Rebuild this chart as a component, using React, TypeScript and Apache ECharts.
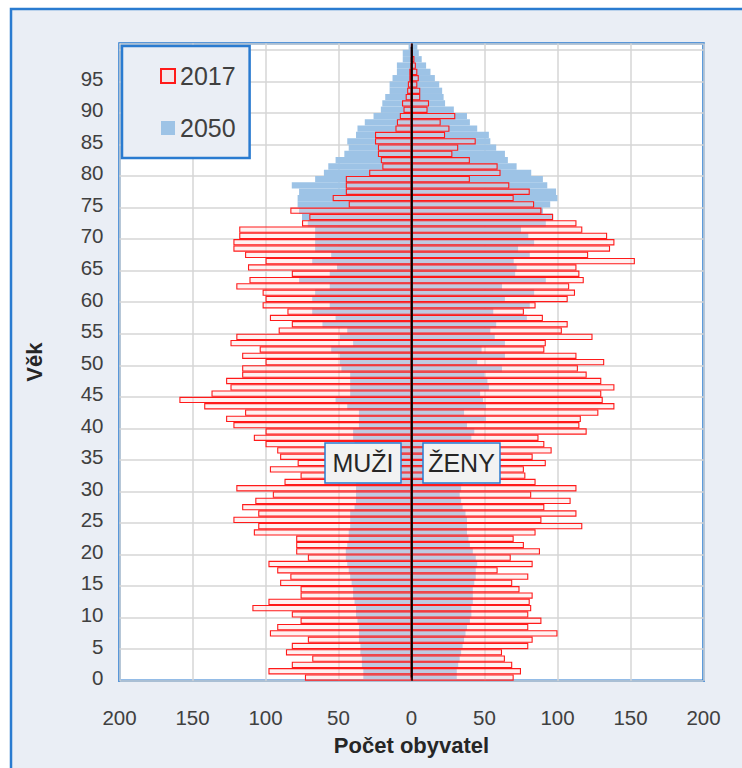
import React, { useEffect, useRef } from "react";
import * as echarts from "echarts";

// Age categories 0..100
const ages: string[] = Array.from({ length: 101 }, (_, i) => String(i));

// 2017 – men (left side), women (right side)
const men2017 = [
  73, 98, 82, 68, 86, 82, 71, 97, 92, 76,
  82, 109, 98, 76, 76, 90, 83, 92, 98, 71,
  79, 79, 79, 108, 105, 122, 105, 116, 107, 95,
  120, 87, 76, 97, 78, 90, 92, 100, 108, 100,
  122, 127, 114, 142, 159, 137, 124, 127, 116, 116,
  100, 116, 104, 124, 120, 91, 82, 97, 85, 102,
  100, 102, 120, 111, 82, 112, 100, 114, 122, 122,
  118, 118, 75, 70, 83, 43, 54, 45, 45, 45,
  29, 20, 21, 23, 23, 25, 25, 11, 10, 8,
  5.5, 6.5, 4, 3, 2.5, 1.5, 1.5, 0.8, 0.5, 0.3,
  0.2,
];
const women2017 = [
  70, 75, 69, 64, 62, 80, 83, 100, 80, 89,
  80, 82, 81, 83, 74, 69, 80, 59, 83, 68,
  88, 77, 70, 85, 117, 89, 113, 91, 109, 82,
  113, 85, 78, 77, 92, 83, 96, 91, 87, 120,
  115, 116, 128, 139, 131, 130, 139, 130, 120, 114,
  132, 113, 91, 92, 124, 103, 107, 90, 77, 85,
  107, 112, 108, 118, 115, 113, 153, 121, 136, 139,
  134, 117, 113, 97, 89, 84, 70, 81, 67, 40,
  61, 59, 40, 28, 32, 44, 23, 26, 20, 30,
  11, 12, 6, 6, 4, 5, 4, 3, 2, 1,
  0.5,
];

// 2050 projection – men, women
const men2050 = [
  33, 33, 34, 34, 35, 35, 36, 36, 36, 37,
  38, 38, 39, 40, 40, 41, 42, 43, 44, 45,
  45, 44, 43, 43, 42, 42, 42, 39, 38, 38,
  38, 38, 38, 38, 39, 39, 39, 39, 40, 40,
  36, 36, 36, 44, 52, 42, 42, 42, 42, 48,
  49, 49, 55, 40, 49, 44, 61, 52, 68, 56,
  68, 66, 56, 77, 56, 51, 68, 55, 66, 66,
  66, 66, 71, 75, 77, 78, 78, 77, 82, 66,
  60, 57, 52, 46, 43, 44, 38, 37, 32, 26,
  21, 20, 18, 15, 15, 13, 10, 10, 6, 6,
  2,
];
const women2050 = [
  31, 31, 32, 33, 34, 35, 36, 37, 38, 40,
  41, 41, 42, 42, 42, 43, 44, 44, 45, 44,
  42, 40, 39, 38, 38, 38, 37, 35, 34, 33,
  34, 35, 36, 37, 37, 38, 39, 40, 41, 43,
  38, 51, 36, 51, 49, 47, 53, 52, 50, 62,
  45, 64, 48, 64, 57, 54, 58, 79, 56, 81,
  64, 84, 62, 92, 71, 72, 70, 81, 73, 84,
  80, 75, 92, 97, 90, 95, 100, 99, 93, 90,
  82, 72, 66, 64, 58, 54, 53, 45, 40, 38,
  29, 23, 22, 21, 19, 16, 13, 10, 7, 5,
  4,
];

const xMin = -200;
const xMax = 200;
const xStep = 50;

const FONT = "'Liberation Sans', Arial, sans-serif";
const BLUE = "#2a7bd0";
const LIGHT = "#eaeef5";
const RED = "#ff1a1a";
const FILL50 = "#9dc3e6";

export default function App() {
  const ref = useRef<HTMLDivElement>(null);

  useEffect(() => {
    if (!ref.current) return;
    const chart = echarts.init(ref.current, undefined, { renderer: "svg" });

    const style17 = {
      color: "rgba(255,215,215,0.35)",
      borderColor: RED,
      borderWidth: 1.1,
    };
    const style50 = { color: FILL50 };
    const common = {
      type: "bar",
      barCategoryGap: "0%",
      barGap: "-100%",
      emphasis: { disabled: true },
    };

    chart.setOption({
      animation: false,
      backgroundColor: "#ffffff",
      textStyle: { fontFamily: FONT },
      grid: {
        left: 119.5,
        right: 38.5,
        top: 43.5,
        bottom: 87.3,
        show: true,
        backgroundColor: "#ffffff",
        borderColor: BLUE,
        borderWidth: 2.5,
      },
      legend: {
        data: [
          { name: "2017", icon: "rect" },
          { name: "2050", icon: "rect" },
        ],
        orient: "vertical",
        left: 122,
        top: 46,
        padding: [17, 14, 17, 38],
        itemGap: 26,
        itemWidth: 14,
        itemHeight: 14,
        backgroundColor: LIGHT,
        borderColor: BLUE,
        borderWidth: 2.5,
        selectedMode: false,
        textStyle: { fontSize: 25, color: "#404040", lineHeight: 26, fontFamily: FONT },
      },
      xAxis: {
        type: "value",
        min: xMin,
        max: xMax,
        interval: xStep,
        axisLine: { show: false },
        axisTick: { show: false },
        splitLine: { lineStyle: { color: "#d6d6d6", width: 1.5 } },
        axisLabel: {
          fontSize: 20.5,
          color: "#404040",
          margin: 26,
          formatter: (v: number) => String(Math.abs(v)),
        },
        name: "Počet obyvatel",
        nameLocation: "middle",
        nameGap: 54,
        nameTextStyle: { fontSize: 22, fontWeight: "bold", color: "#262626" },
      },
      yAxis: {
        type: "category",
        data: ages,
        axisLine: { show: false },
        axisTick: { show: false },
        axisLabel: {
          fontSize: 20.5,
          color: "#404040",
          margin: 16,
          interval: (i: number) => i % 5 === 0 && i < 100,
        },
        splitLine: {
          show: true,
          interval: (i: number) => i % 5 === 0,
          lineStyle: { color: "#d6d6d6", width: 1.5 },
        },
        name: "Věk",
        nameLocation: "middle",
        nameGap: 74,
        nameTextStyle: { fontSize: 22, fontWeight: "bold", color: "#262626" },
      },
      series: [
        { ...common, name: "2050", stack: "y2050", data: men2050.map((v) => -v), itemStyle: style50 },
        { ...common, name: "2050", stack: "y2050", data: women2050, itemStyle: style50 },
        { ...common, name: "2017", stack: "y2017", data: men2017.map((v) => -v), itemStyle: style17 },
        { ...common, name: "2017", stack: "y2017", data: women2017, itemStyle: style17 },
        {
          type: "line",
          name: "osa",
          z: 10,
          silent: true,
          symbol: "none",
          data: ages.map((a) => [0, a]),
          lineStyle: { color: "#000000", width: 1.6 },
          markLine: {
            silent: true,
            symbol: ["none", "none"],
            label: { show: false },
            lineStyle: { color: "#000000", width: 1.6, type: "solid" },
            data: [{ xAxis: 0 }],
          },
        },
      ],
      graphic: [
        {
          type: "rect",
          z: -10,
          shape: { x: 11, y: 9, width: 800, height: 800 },
          style: { fill: LIGHT, stroke: BLUE, lineWidth: 2.5 },
          silent: true,
        },
        {
          type: "group",
          z: 100,
          children: [
            {
              type: "rect",
              z: 100,
              shape: { x: 325, y: 443, width: 76, height: 40 },
              style: { fill: "#f2f2f2", stroke: BLUE, lineWidth: 1.5 },
            },
            {
              type: "text",
              z: 101,
              x: 363,
              y: 463,
              style: {
                text: "MUŽI",
                fontSize: 25,
                fontFamily: FONT,
                fill: "#262626",
                align: "center",
                verticalAlign: "middle",
              },
            },
            {
              type: "rect",
              z: 100,
              shape: { x: 423, y: 443, width: 77, height: 40 },
              style: { fill: "#f2f2f2", stroke: BLUE, lineWidth: 1.5 },
            },
            {
              type: "text",
              z: 101,
              x: 461.5,
              y: 463,
              style: {
                text: "ŽENY",
                fontSize: 25,
                fontFamily: FONT,
                fill: "#262626",
                align: "center",
                verticalAlign: "middle",
              },
            },
          ],
        },
      ],
    });

    return () => chart.dispose();
  }, []);

  return (
    <div
      ref={ref}
      style={{ position: "absolute", left: 0, top: 0, width: 742, height: 768 }}
    />
  );
}
